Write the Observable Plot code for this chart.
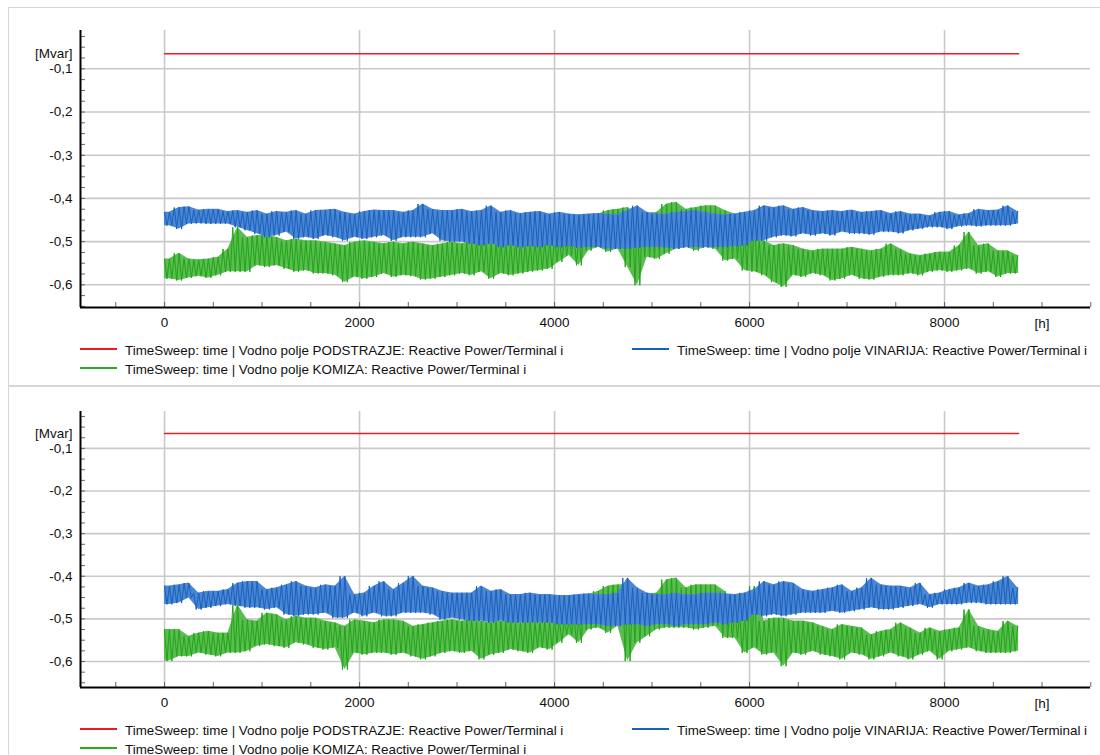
<!DOCTYPE html>
<html><head><meta charset="utf-8">
<script src="https://cdn.jsdelivr.net/npm/d3@7"></script>
<script src="https://cdn.jsdelivr.net/npm/@observablehq/plot@0.6"></script>
<style>
body{margin:0;background:#fff;font-family:"Liberation Sans",Arial,sans-serif;}
#root{position:relative;width:1100px;height:755px;overflow:hidden;}
.panel{position:absolute;left:8px;width:1100px;border:1px solid #d6d6d6;border-right:none;box-sizing:border-box;}
.chart{position:absolute;left:0;}
.leg{position:absolute;font-size:13.4px;line-height:15px;color:#111;white-space:nowrap;}
.sw{position:absolute;height:2px;width:37px;}
</style></head><body><div id="root"></div>
<script>
// ---- tick / category definitions ----
const xTicks = [0, 2000, 4000, 6000, 8000];
const xMinorTicks = [-500, 0, 500, 1000, 1500, 2000, 2500, 3000, 3500, 4000, 4500, 5000, 5500, 6000, 6500, 7000, 7500, 8000, 8500, 9000, 9500];
const yTicks = [-0.1, -0.2, -0.3, -0.4, -0.5, -0.6];
const yMinorTicks = [-0.025, -0.05, -0.075, -0.1, -0.125, -0.15, -0.175, -0.2, -0.225, -0.25, -0.275, -0.3, -0.325, -0.35, -0.375, -0.4, -0.425, -0.45, -0.475, -0.5, -0.525, -0.55, -0.575, -0.6, -0.625, -0.65];
const xUnit = {at: 9000, text: "[h]"};
const yUnit = "[Mvar]";
const seriesNames = [
  "TimeSweep: time | Vodno polje PODSTRAZJE: Reactive Power/Terminal i",
  "TimeSweep: time | Vodno polje VINARIJA: Reactive Power/Terminal i",
  "TimeSweep: time | Vodno polje KOMIZA: Reactive Power/Terminal i"
];
const colors = {red: "#ea1c24", blue: "#1662bf", green: "#21a516", blueFill: "#4d86d2", greenFill: "#5bbd52"};

// hours of each 100 h bucket (0 .. 8700), simulation ends at 8760 h
const bucketHours = d3.range(0, 8760, 100);
const endHour = 8760;
const redHours = [0, 8760];

// ---- top panel (values in Mvar, upper/lower envelope per 100 h bucket) ----
const topRed = [-0.065, -0.065];
const topBlueHi = [
-0.432,-0.421,-0.419,-0.427,-0.425,-0.425,-0.430,-0.428,-0.432,-0.428,
-0.436,-0.430,-0.432,-0.428,-0.436,-0.428,-0.427,-0.425,-0.432,-0.436,
-0.430,-0.427,-0.428,-0.428,-0.432,-0.428,-0.413,-0.425,-0.428,-0.428,
-0.425,-0.430,-0.428,-0.417,-0.432,-0.428,-0.435,-0.432,-0.430,-0.436,
-0.432,-0.436,-0.438,-0.436,-0.435,-0.436,-0.438,-0.428,-0.417,-0.432,
-0.436,-0.436,-0.432,-0.430,-0.428,-0.432,-0.436,-0.438,-0.436,-0.432,
-0.428,-0.417,-0.421,-0.417,-0.425,-0.421,-0.428,-0.430,-0.428,-0.430,
-0.427,-0.432,-0.430,-0.428,-0.435,-0.430,-0.436,-0.436,-0.440,-0.432,
-0.430,-0.438,-0.435,-0.425,-0.428,-0.427,-0.417,-0.430];
const topBlueLo = [
-0.463,-0.471,-0.459,-0.458,-0.459,-0.459,-0.459,-0.467,-0.474,-0.482,
-0.490,-0.486,-0.478,-0.494,-0.490,-0.494,-0.486,-0.490,-0.498,-0.490,
-0.494,-0.490,-0.486,-0.498,-0.490,-0.490,-0.490,-0.482,-0.498,-0.501,
-0.501,-0.505,-0.509,-0.505,-0.513,-0.509,-0.513,-0.511,-0.513,-0.509,
-0.513,-0.511,-0.514,-0.513,-0.513,-0.517,-0.517,-0.517,-0.514,-0.513,
-0.513,-0.514,-0.517,-0.514,-0.513,-0.514,-0.513,-0.513,-0.511,-0.509,
-0.498,-0.498,-0.490,-0.486,-0.488,-0.482,-0.486,-0.482,-0.486,-0.478,
-0.482,-0.482,-0.484,-0.478,-0.478,-0.481,-0.474,-0.471,-0.467,-0.467,
-0.471,-0.465,-0.463,-0.465,-0.463,-0.463,-0.463,-0.459];
const topGreenHi = [
-0.540,-0.527,-0.540,-0.542,-0.540,-0.536,-0.517,-0.467,-0.490,-0.486,
-0.486,-0.490,-0.498,-0.494,-0.498,-0.498,-0.501,-0.505,-0.509,-0.501,
-0.498,-0.501,-0.505,-0.501,-0.505,-0.501,-0.505,-0.509,-0.505,-0.501,
-0.505,-0.498,-0.498,-0.501,-0.498,-0.501,-0.498,-0.501,-0.498,-0.498,
-0.490,-0.490,-0.482,-0.444,-0.436,-0.428,-0.425,-0.421,-0.436,-0.436,
-0.432,-0.413,-0.409,-0.425,-0.421,-0.417,-0.417,-0.428,-0.436,-0.482,
-0.432,-0.498,-0.509,-0.505,-0.509,-0.517,-0.521,-0.517,-0.517,-0.517,
-0.513,-0.517,-0.521,-0.517,-0.505,-0.517,-0.528,-0.532,-0.528,-0.524,
-0.524,-0.509,-0.478,-0.509,-0.505,-0.521,-0.521,-0.532];
const topGreenLo = [
-0.586,-0.590,-0.584,-0.580,-0.584,-0.578,-0.570,-0.570,-0.570,-0.555,
-0.559,-0.555,-0.563,-0.570,-0.567,-0.574,-0.574,-0.578,-0.594,-0.582,
-0.586,-0.582,-0.574,-0.582,-0.578,-0.580,-0.588,-0.586,-0.582,-0.578,
-0.574,-0.578,-0.570,-0.586,-0.574,-0.578,-0.574,-0.570,-0.567,-0.563,
-0.547,-0.532,-0.555,-0.521,-0.513,-0.524,-0.517,-0.559,-0.601,-0.536,
-0.540,-0.528,-0.517,-0.513,-0.521,-0.513,-0.517,-0.544,-0.540,-0.567,
-0.570,-0.578,-0.594,-0.605,-0.578,-0.582,-0.574,-0.578,-0.590,-0.586,
-0.578,-0.586,-0.588,-0.582,-0.578,-0.578,-0.574,-0.578,-0.570,-0.567,
-0.570,-0.567,-0.563,-0.574,-0.570,-0.582,-0.574,-0.574];

// ---- bottom panel ----
const botRed = [-0.065, -0.065];
const botBlueHi = [
-0.423,-0.420,-0.416,-0.439,-0.435,-0.435,-0.431,-0.416,-0.412,-0.412,
-0.431,-0.427,-0.420,-0.412,-0.423,-0.427,-0.420,-0.423,-0.400,-0.443,
-0.439,-0.423,-0.412,-0.431,-0.416,-0.400,-0.423,-0.427,-0.435,-0.439,
-0.439,-0.439,-0.423,-0.435,-0.431,-0.443,-0.443,-0.439,-0.443,-0.443,
-0.445,-0.445,-0.443,-0.441,-0.443,-0.443,-0.439,-0.404,-0.427,-0.439,
-0.443,-0.443,-0.439,-0.443,-0.443,-0.439,-0.439,-0.441,-0.443,-0.439,
-0.431,-0.412,-0.420,-0.412,-0.416,-0.431,-0.435,-0.431,-0.427,-0.420,
-0.435,-0.427,-0.404,-0.420,-0.423,-0.423,-0.427,-0.416,-0.443,-0.439,
-0.431,-0.427,-0.416,-0.423,-0.420,-0.412,-0.400,-0.427];
const botBlueLo = [
-0.466,-0.463,-0.451,-0.478,-0.474,-0.470,-0.466,-0.470,-0.474,-0.474,
-0.478,-0.474,-0.490,-0.494,-0.490,-0.490,-0.486,-0.498,-0.498,-0.486,
-0.494,-0.486,-0.494,-0.494,-0.486,-0.486,-0.486,-0.490,-0.502,-0.498,
-0.502,-0.505,-0.505,-0.509,-0.505,-0.509,-0.509,-0.509,-0.509,-0.509,
-0.513,-0.513,-0.513,-0.513,-0.513,-0.517,-0.517,-0.513,-0.513,-0.517,
-0.513,-0.513,-0.517,-0.513,-0.513,-0.513,-0.509,-0.513,-0.509,-0.505,
-0.490,-0.494,-0.490,-0.494,-0.490,-0.486,-0.486,-0.486,-0.482,-0.486,
-0.482,-0.478,-0.474,-0.478,-0.478,-0.474,-0.470,-0.466,-0.474,-0.466,
-0.466,-0.466,-0.463,-0.463,-0.466,-0.466,-0.466,-0.466];
const botGreenHi = [
-0.525,-0.525,-0.541,-0.533,-0.529,-0.533,-0.533,-0.466,-0.502,-0.505,
-0.486,-0.490,-0.502,-0.494,-0.498,-0.498,-0.505,-0.509,-0.517,-0.502,
-0.505,-0.509,-0.502,-0.502,-0.505,-0.517,-0.513,-0.509,-0.505,-0.502,
-0.505,-0.502,-0.505,-0.509,-0.505,-0.505,-0.509,-0.505,-0.509,-0.505,
-0.502,-0.502,-0.494,-0.443,-0.435,-0.423,-0.420,-0.420,-0.435,-0.443,
-0.439,-0.408,-0.404,-0.427,-0.420,-0.420,-0.420,-0.435,-0.474,-0.490,
-0.423,-0.505,-0.498,-0.498,-0.505,-0.505,-0.509,-0.517,-0.525,-0.513,
-0.517,-0.521,-0.537,-0.529,-0.525,-0.509,-0.521,-0.533,-0.521,-0.529,
-0.525,-0.521,-0.478,-0.517,-0.525,-0.529,-0.505,-0.517];
const botGreenLo = [
-0.599,-0.588,-0.588,-0.580,-0.584,-0.588,-0.580,-0.580,-0.576,-0.564,
-0.560,-0.564,-0.568,-0.556,-0.560,-0.568,-0.572,-0.568,-0.619,-0.580,
-0.584,-0.580,-0.580,-0.584,-0.580,-0.588,-0.595,-0.588,-0.580,-0.576,
-0.580,-0.576,-0.595,-0.584,-0.580,-0.572,-0.576,-0.580,-0.568,-0.572,
-0.556,-0.537,-0.556,-0.525,-0.521,-0.533,-0.517,-0.599,-0.556,-0.541,
-0.525,-0.521,-0.521,-0.521,-0.525,-0.521,-0.517,-0.545,-0.545,-0.580,
-0.568,-0.584,-0.580,-0.611,-0.580,-0.584,-0.576,-0.584,-0.588,-0.595,
-0.580,-0.584,-0.595,-0.588,-0.580,-0.588,-0.595,-0.584,-0.576,-0.595,
-0.576,-0.572,-0.568,-0.576,-0.580,-0.580,-0.580,-0.576];

// ---- build: band through bucket centres plus a hi/lo oscillation for the hourly noise ----
const subSteps = [0, 25, 50, 75];
function zigzag(hi, lo) {
  const pts = [];
  bucketHours.forEach((h, i) => {
    subSteps.forEach((o, k) => {
      if (h + o <= endHour) pts.push({t: h + o, v: k % 2 === 0 ? hi[i] : lo[i]});
    });
  });
  return pts;
}
function band(hi, lo) {
  const rows = [{t: 0, hi: hi[0], lo: lo[0]}];
  bucketHours.forEach((h, i) => rows.push({t: Math.min(h + 50, endHour), hi: hi[i], lo: lo[i]}));
  rows.push({t: endHour, hi: hi[hi.length - 1], lo: lo[lo.length - 1]});
  return rows;
}
const fmtY = v => d3.format(".1f")(v).replace("\u2212", "-").replace(".", ",");
const fmtX = v => String(v);

function chart(cfg) {
  const W = 1100, H = 335, mL = 80, mR = 10, mB = 28;
  const plotW = W - mL - mR, plotH = H - cfg.marginTop - mB;
  const xDomain = [-862, 9497];
  const red = redHours.map((t, i) => ({t, v: cfg.red[i]}));
  return Plot.plot({
    width: W, height: H, marginLeft: mL, marginRight: mR, marginTop: cfg.marginTop, marginBottom: mB,
    x: {domain: xDomain}, y: {domain: cfg.yDomain},
    style: {fontFamily: "'Liberation Sans', Arial, sans-serif", fontSize: "13.5px", color: "#111", background: "transparent", overflow: "visible"},
    marks: [
      Plot.ruleX(xTicks, {stroke: "#c9c9c9", strokeWidth: 1.6}),
      Plot.ruleY(yTicks, {stroke: "#c9c9c9", strokeWidth: 1.6}),
      Plot.tickY(yMinorTicks, {y: d => d, insetRight: plotW - 5, stroke: "#666", strokeWidth: 1}),
      Plot.tickX(xMinorTicks, {x: d => d, insetTop: plotH - 5, stroke: "#666", strokeWidth: 1}),
      Plot.areaY(band(cfg.greenHi, cfg.greenLo), {x: "t", y1: "lo", y2: "hi", fill: colors.greenFill}),
      Plot.line(zigzag(cfg.greenHi, cfg.greenLo), {x: "t", y: "v", stroke: colors.green, strokeWidth: 1}),
      Plot.areaY(band(cfg.blueHi, cfg.blueLo), {x: "t", y1: "lo", y2: "hi", fill: colors.blueFill}),
      Plot.line(zigzag(cfg.blueHi, cfg.blueLo), {x: "t", y: "v", stroke: colors.blue, strokeWidth: 1}),
      Plot.line(red, {x: "t", y: "v", stroke: colors.red, strokeWidth: 1.5}),
      Plot.ruleX([xDomain[0]], {stroke: "#000", strokeWidth: 2}),
      Plot.ruleY([cfg.yDomain[0]], {stroke: "#000", strokeWidth: 2}),
      Plot.axisX(xTicks, {tickSize: 0, tickPadding: 10, label: null, tickFormat: fmtX}),
      Plot.axisY(yTicks, {tickSize: 0, tickPadding: 8, label: null, tickFormat: fmtY}),
      Plot.text([yUnit], {frameAnchor: "top-left", dx: -8, dy: cfg.unitDy, textAnchor: "end"}),
      Plot.text([xUnit], {x: "at", y: () => cfg.yDomain[0], text: "text", dy: 16})
    ]
  });
}

const root = document.getElementById("root");
const panels = [
  {top: 0, frameTop: 7, frameH: 379, marginTop: 30, unitDy: 18, yDomain: [-0.6525, -0.0113],
   red: topRed, blueHi: topBlueHi, blueLo: topBlueLo, greenHi: topGreenHi, greenLo: topGreenLo},
  {top: 380, frameTop: 386, frameH: 400, marginTop: 31, unitDy: 17, yDomain: [-0.661, -0.0134],
   red: botRed, blueHi: botBlueHi, blueLo: botBlueLo, greenHi: botGreenHi, greenLo: botGreenLo}
];
panels.forEach(p => {
  const fr = document.createElement("div");
  fr.className = "panel";
  fr.style.top = p.frameTop + "px";
  fr.style.height = p.frameH + "px";
  root.appendChild(fr);
  const c = document.createElement("div");
  c.className = "chart";
  c.style.top = p.top + "px";
  c.appendChild(chart(p));
  root.appendChild(c);
  const legend = [
    {name: seriesNames[0], color: colors.red, x: 80, y: 350},
    {name: seriesNames[1], color: colors.blue, x: 632, y: 350},
    {name: seriesNames[2], color: "#2aab22", x: 80, y: 369}
  ];
  legend.forEach(l => {
    const sw = document.createElement("div");
    sw.className = "sw";
    sw.style.left = l.x + "px";
    sw.style.top = (p.top + l.y - 2) + "px";
    sw.style.background = l.color;
    root.appendChild(sw);
    const tx = document.createElement("div");
    tx.className = "leg";
    tx.style.left = (l.x + 45) + "px";
    tx.style.top = (p.top + l.y - 7.5) + "px";
    tx.textContent = l.name;
    root.appendChild(tx);
  });
});
</script></body></html>
